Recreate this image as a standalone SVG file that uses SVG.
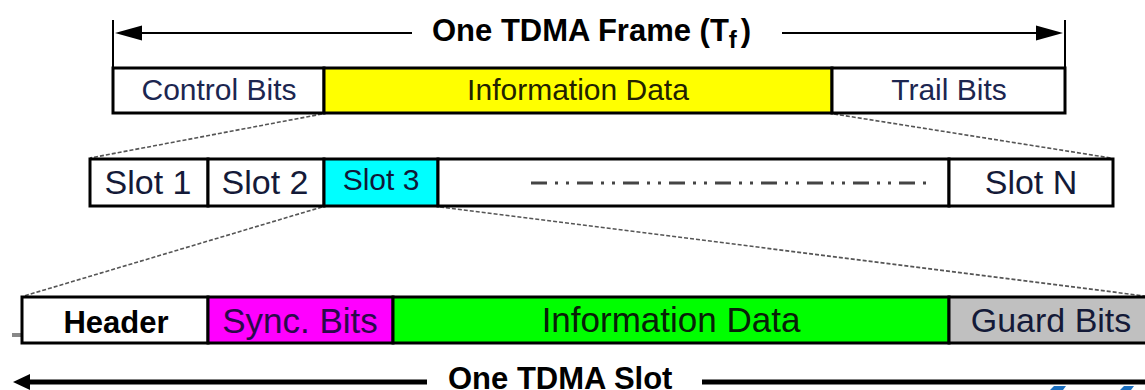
<svg xmlns="http://www.w3.org/2000/svg" width="1145" height="390" viewBox="0 0 1145 390">
<style>
.box{stroke:#000;stroke-width:3}
.t{font-family:"Liberation Sans",Arial,sans-serif;text-anchor:middle}
.b{font-weight:bold}
.conn{fill:none;stroke:#555;stroke-width:1.6;stroke-dasharray:4 2}
.dim{stroke:#000;fill:none}
</style>
<rect width="1145" height="390" fill="#fff"/>
<g id="dimension-frame">
<line class="dim" x1="113" y1="20" x2="113" y2="68" stroke-width="2"/>
<line class="dim" x1="1065" y1="20" x2="1065" y2="68" stroke-width="2"/>
<line class="dim" x1="138" y1="33" x2="412" y2="33" stroke-width="2"/>
<line class="dim" x1="782" y1="33" x2="1040" y2="33" stroke-width="2"/>
<polygon points="115,33 142,25.5 142,40.5" fill="#000"/>
<polygon points="1063,33 1036,25.5 1036,40.5" fill="#000"/>
<text class="b" x="432" y="41" font-family="Liberation Sans,Arial,sans-serif" font-size="31">One TDMA Frame (T<tspan font-size="24" dy="7">f</tspan><tspan dy="-7" dx="4">)</tspan></text>
</g>
<g id="connectors">
<line class="conn" x1="322" y1="114" x2="90" y2="158"/>
<line class="conn" x1="834" y1="114" x2="1111" y2="158"/>
<line class="conn" x1="322" y1="207" x2="24" y2="296"/>
<line class="conn" x1="440" y1="207" x2="1145" y2="296"/>
</g>
<g id="frame-control-bits">
<rect class="box" x="113" y="68" width="211" height="45" fill="#fff"/>
<text class="t" x="219" y="100" font-size="30" fill="#1c2650">Control Bits</text>
</g>
<g id="frame-information-data">
<rect class="box" x="324" y="68" width="508" height="45" fill="#ffff00"/>
<text class="t" x="578" y="100" font-size="30" fill="#222200">Information Data</text>
</g>
<g id="frame-trail-bits">
<rect class="box" x="832" y="68" width="233" height="45" fill="#fff"/>
<text class="t" x="949" y="100" font-size="30" fill="#1c2650">Trail Bits</text>
</g>
<g id="slot-1">
<rect class="box" x="90" y="159" width="118" height="47" fill="#fff"/>
<text class="t" x="148" y="194" font-size="34" fill="#141a38">Slot 1</text>
</g>
<g id="slot-2">
<rect class="box" x="208" y="159" width="116" height="47" fill="#fff"/>
<text class="t" x="265" y="194" font-size="34" fill="#141a38">Slot 2</text>
</g>
<g id="slot-3">
<rect class="box" x="324" y="159" width="114" height="47" fill="#00ffff"/>
<text class="t" x="381" y="190" font-size="30" fill="#101838">Slot 3</text>
</g>
<g id="slot-gap">
<rect class="box" x="438" y="159" width="511" height="47" fill="#fff"/>
<line x1="531" y1="183" x2="930" y2="183" stroke="#444" stroke-width="3" stroke-dasharray="16 8 3 8 3 8"/>
</g>
<g id="slot-n">
<rect class="box" x="949" y="159" width="164" height="47" fill="#fff"/>
<text class="t" x="1031" y="194" font-size="34" fill="#141a38">Slot N</text>
</g>
<g id="slot-header">
<rect x="12" y="333" width="15" height="4" fill="#888"/>
<rect x="200" y="333" width="8" height="4" fill="#888"/>
<rect class="box" x="22" y="297" width="186" height="46" fill="#fff"/>
<text class="t b" x="116" y="333" font-size="31" fill="#000">Header</text>
</g>
<g id="slot-sync-bits">
<rect class="box" x="208" y="297" width="185" height="46" fill="#ff00ff"/>
<text class="t" x="300" y="333" font-size="35" fill="#2a0a4a">Sync. Bits</text>
</g>
<g id="slot-information-data">
<rect class="box" x="393" y="297" width="556" height="46" fill="#00ff00"/>
<text class="t" x="671" y="332" font-size="35" fill="#082008">Information Data</text>
</g>
<g id="slot-guard-bits">
<rect class="box" x="949" y="297" width="210" height="46" fill="#c0c0c0"/>
<text class="t" x="1051" y="332" font-size="34" fill="#141a38">Guard Bits</text>
</g>
<g id="dimension-slot">
<line class="dim" x1="26" y1="382" x2="427" y2="382" stroke-width="5"/>
<line class="dim" x1="702" y1="382" x2="1145" y2="382" stroke-width="5"/>
<polygon points="13,382 30,374 30,390" fill="#000"/>
<text class="b" x="448" y="389" font-family="Liberation Sans,Arial,sans-serif" font-size="31">One TDMA Slot</text>
</g>
<g id="corner-marks" fill="#1a6fc0">
<polygon points="1050,390 1054,386 1066,386 1063,390"/>
<polygon points="1120,390 1124,386 1134,386 1131,390"/>
</g>
</svg>
